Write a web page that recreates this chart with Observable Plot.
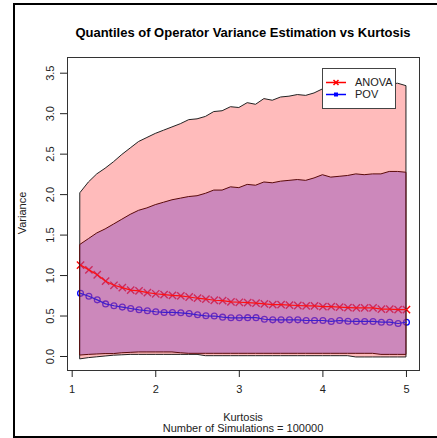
<!DOCTYPE html>
<html>
<head>
<meta charset="utf-8">
<script src="https://cdn.jsdelivr.net/npm/d3@7"></script>
<script src="https://cdn.jsdelivr.net/npm/@observablehq/plot@0.6"></script>
<style>
  body { margin: 0; overflow: hidden; background: #fff; font-family: "Liberation Sans", Arial, sans-serif; }
  #wrap { position: relative; width: 437px; height: 438px; overflow: hidden; }
  #border { position: absolute; left: 13px; top: 3px; width: 500px; height: 435px; box-sizing: border-box; border: 2px solid #000; }
  #chart { position: absolute; left: 0; top: 0; }
  .lbl { position: absolute; white-space: nowrap; color: #222; font-size: 11px; line-height: 1; }
  #title { left: 243px; top: 32px; transform: translate(-50%, -50%); font-weight: bold; font-size: 13px; color: #000; }
  #ylab { left: 22px; top: 213px; transform: translate(-50%, -50%) rotate(-90deg); }
  #xlab { left: 243px; top: 417px; transform: translate(-50%, -50%); }
  #cap { left: 243px; top: 428px; transform: translate(-50%, -50%); }
  #legend { position: absolute; left: 0; top: 0; pointer-events: none; }
</style>
</head>
<body>
<div id="wrap">
  <div id="border"></div>
  <div id="chart"></div>
  <div class="lbl" id="title">Quantiles of Operator Variance Estimation vs Kurtosis</div>
  <div class="lbl" id="ylab">Variance</div>
  <div class="lbl" id="xlab">Kurtosis</div>
  <div class="lbl" id="cap">Number of Simulations = 100000</div>
  <svg id="legend" width="437" height="438" font-family="Liberation Sans, Arial, sans-serif" font-size="11">
    <rect x="322.5" y="68.5" width="73" height="40" fill="#fff" stroke="#444"></rect>
    <line x1="326" x2="346" y1="82.5" y2="82.5" stroke="#ff0000" stroke-width="1.5"></line>
    <path d="M333.5,80 L338.5,85 M338.5,80 L333.5,85" stroke="#ff0000" stroke-width="1.5"></path>
    <text x="355" y="82.5" dy="0.35em" fill="#222">ANOVA</text>
    <line x1="326" x2="346" y1="94.5" y2="94.5" stroke="#0000ff" stroke-width="1.5"></line>
    <rect x="334" y="92.5" width="4" height="4" fill="#0000ff"></rect>
    <text x="355" y="94.5" dy="0.35em" fill="#222">POV</text>
  </svg>
</div>
<script>
// Kurtosis levels simulated
const kurtosis = [1.1, 1.2, 1.3, 1.4, 1.5, 1.6, 1.7, 1.8, 1.9, 2.0,
                  2.1, 2.2, 2.3, 2.4, 2.5, 2.6, 2.7, 2.8, 2.9, 3.0,
                  3.1, 3.2, 3.3, 3.4, 3.5, 3.6, 3.7, 3.8, 3.9, 4.0,
                  4.1, 4.2, 4.3, 4.4, 4.5, 4.6, 4.7, 4.8, 4.9, 5.0];

// Outer quantile band (light red)
const outerUpper = [2.02, 2.15, 2.25, 2.32, 2.40, 2.49, 2.57, 2.65, 2.70, 2.75,
                    2.79, 2.83, 2.87, 2.92, 2.93, 2.96, 3.02, 3.03, 3.08, 3.07,
                    3.13, 3.11, 3.18, 3.16, 3.20, 3.21, 3.23, 3.22, 3.25, 3.30,
                    3.30, 3.31, 3.32, 3.32, 3.34, 3.34, 3.35, 3.36, 3.37, 3.34];
const outerLower = [-0.035, -0.02, -0.01, 0.0, 0.01, 0.015, 0.02, 0.02, 0.02, 0.02,
                    0.02, 0.02, 0.02, 0.02, 0.02, 0.004, 0.004, 0.004, 0.004, 0.004,
                    0.004, 0.004, 0.004, 0.004, 0.004, 0.004, 0.004, 0.004, 0.004, 0.004,
                    0.004, 0.004, 0.004, -0.012, -0.012, -0.012, -0.012, -0.012, -0.012, -0.012];

// Inner quantile band (purple)
const innerUpper = [1.38, 1.45, 1.52, 1.57, 1.63, 1.69, 1.75, 1.80, 1.83, 1.87,
                    1.90, 1.93, 1.95, 1.97, 1.98, 2.01, 2.05, 2.05, 2.09, 2.08,
                    2.12, 2.11, 2.15, 2.14, 2.16, 2.17, 2.18, 2.17, 2.20, 2.24,
                    2.21, 2.22, 2.23, 2.25, 2.24, 2.25, 2.25, 2.28, 2.28, 2.27];
const innerLower = [0.012, 0.02, 0.025, 0.03, 0.03, 0.04, 0.045, 0.05, 0.05, 0.05,
                    0.05, 0.05, 0.04, 0.033, 0.033, 0.033, 0.033, 0.033, 0.033, 0.033,
                    0.033, 0.033, 0.033, 0.033, 0.033, 0.033, 0.033, 0.033, 0.033, 0.033,
                    0.033, 0.033, 0.033, 0.033, 0.033, 0.033, 0.02, 0.02, 0.02, 0.02];

// Median estimates
const anova = [1.13, 1.07, 1.01, 0.93, 0.88, 0.85, 0.82, 0.81, 0.79, 0.775,
               0.765, 0.755, 0.75, 0.735, 0.72, 0.71, 0.695, 0.69, 0.675, 0.67,
               0.665, 0.66, 0.65, 0.64, 0.64, 0.635, 0.63, 0.625, 0.625, 0.615,
               0.615, 0.61, 0.605, 0.60, 0.60, 0.60, 0.585, 0.585, 0.58, 0.58];
const pov = [0.78, 0.745, 0.70, 0.65, 0.627, 0.61, 0.593, 0.577, 0.565, 0.553,
             0.544, 0.544, 0.54, 0.53, 0.515, 0.503, 0.50, 0.486, 0.478, 0.478,
             0.48, 0.48, 0.46, 0.453, 0.453, 0.453, 0.453, 0.445, 0.445, 0.445,
             0.433, 0.445, 0.436, 0.433, 0.433, 0.433, 0.424, 0.424, 0.408, 0.424];

const xTicks = [1, 2, 3, 4, 5];
const yTicks = [0, 0.5, 1.0, 1.5, 2.0, 2.5, 3.0, 3.5];

const rows = kurtosis.map((k, i) => ({
  k,
  lo95: outerLower[i], hi95: outerUpper[i],
  lo: innerLower[i], hi: innerUpper[i],
  anova: anova[i], pov: pov[i]
}));

const chart = Plot.plot({
  width: 437,
  height: 438,
  marginLeft: 67,
  marginRight: 18,
  marginTop: 57,
  marginBottom: 68,
  style: { fontFamily: "Liberation Sans, Arial, sans-serif", fontSize: "11px", color: "#222", background: "transparent" },
  x: { domain: [0.944, 5.156] },
  y: { domain: [-0.173, 3.694] },
  marks: [
    // markers sit beneath the translucent bands
    Plot.dot(rows, { x: "k", y: "anova", symbol: "times", r: 3.4, stroke: "#ff0000", strokeWidth: 1.4 }),
    Plot.dot(rows, { x: "k", y: "pov", symbol: "circle", r: 2.9, stroke: "#0000ff", fill: "none", strokeWidth: 1.3 }),
    Plot.areaY(rows, { x: "k", y1: "lo95", y2: "hi95", fill: "#ff0000", fillOpacity: 0.267, stroke: "#222", strokeWidth: 1 }),
    Plot.areaY(rows, { x: "k", y1: "lo", y2: "hi", fill: "#9955bb", fillOpacity: 0.5, stroke: "#5a0a0a", strokeWidth: 1 }),
    Plot.line(rows, { x: "k", y: "anova", stroke: "#ff1010", strokeWidth: 1.2 }),
    Plot.line(rows, { x: "k", y: "pov", stroke: "#3a20cc", strokeWidth: 1.2 }),
    Plot.frame({ stroke: "#333" }),
    Plot.axisX({ ticks: xTicks, tickSize: 7, tickPadding: 8, tickFormat: d3.format("d"), fontSize: 11, label: null }),
    Plot.axisY({ ticks: yTicks, tickSize: 7, tickPadding: 7, tickRotate: -90, textAnchor: "middle", lineAnchor: "bottom",
                 tickFormat: d3.format(".1f"), fontSize: 11, label: null })
  ]
});
document.getElementById("chart").appendChild(chart);
</script>
</body>
</html>
